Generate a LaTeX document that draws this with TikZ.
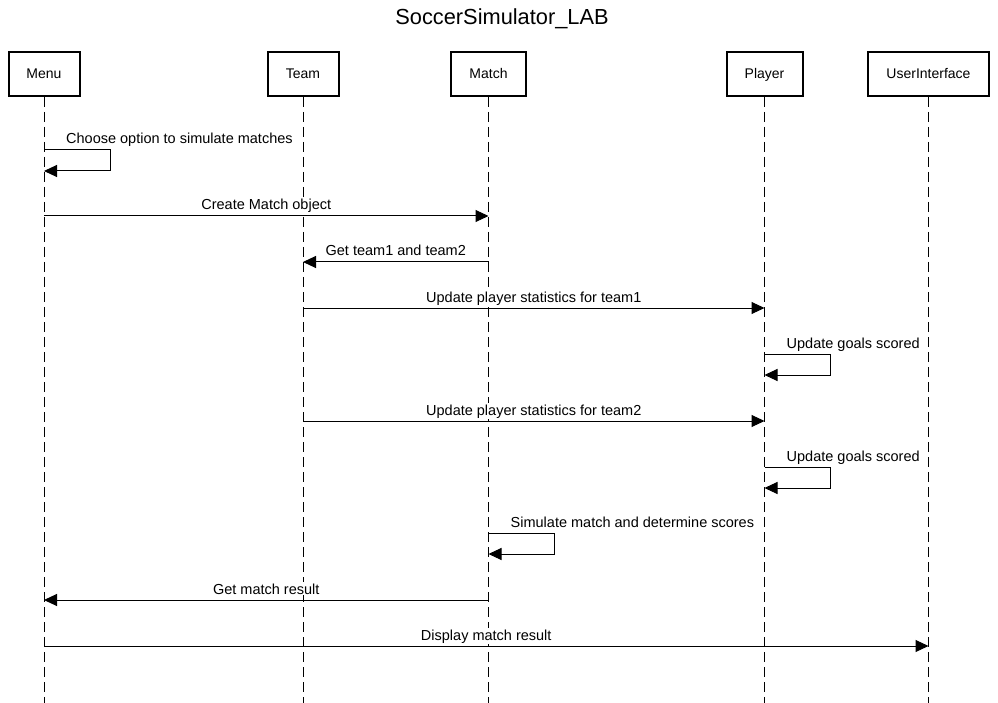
\documentclass[tikz,border=0pt]{standalone}
\usepackage{fontspec}
\setmainfont{Liberation Sans}
\usetikzlibrary{arrows.meta}

\begin{document}
\begin{tikzpicture}[x=1pt,y=-1pt,>={Triangle[length=13pt,width=12pt]},
head/.style={draw,line width=2pt,minimum height=44pt,text height=10pt,text depth=0pt,
  font=\fontsize{14}{16}\selectfont},
life/.style={dash pattern=on 10pt off 5pt,line width=1pt},
msg/.style={->,line width=1pt},
lbl/.style={font=\fontsize{14.5}{17}\selectfont,anchor=base,inner sep=1pt,fill=white}]
\useasboundingbox (0,0) rectangle (998,703);
\node[anchor=base,font=\fontsize{21.8}{24}\selectfont] (title) at (502,25) {SoccerSimulator\_LAB};
\node[head,minimum width=71pt] (menu) at (44,74) {Menu};
\node[head,minimum width=71pt] (team) at (303,74) {Team};
\node[head,minimum width=75pt] (match) at (488.5,74) {Match};
\node[head,minimum width=76pt] (player) at (764.5,74) {Player};
\node[head,minimum width=121pt] (ui) at (928.5,74) {UserInterface};
\foreach \n in {menu,team,match,player,ui}{
  \coordinate (\n-end) at (\n |- 0,703);
  \draw[life] (\n) -- (\n-end);
}
\foreach \n/\y in {menu/150,menu/171,menu/216,menu/600,menu/646,team/262,team/308,team/421,
  match/216,match/262,match/533,match/554,match/600,player/308,player/354,player/375,
  player/421,player/467,player/488,ui/646}
  \coordinate (\n-\y) at (\n |- 0,\y);
\draw[msg] (menu-150) -- ++(66,0) |- (menu-171);
\node[lbl,anchor=base west] (choose) at ([shift={(21,-6)}]menu-150) {Choose option to simulate matches};
\path[msg] (menu-216) edge node[lbl,yshift=6pt]{Create Match object} (match-216);
\path[msg] (match-262) edge node[lbl,yshift=6pt]{Get team1 and team2} (team-262);
\path[msg] (team-308) edge node[lbl,yshift=6pt]{Update player statistics for team1} (player-308);
\draw[msg] (player-354) -- ++(66,0) |- (player-375);
\node[lbl,anchor=base west] (goals1) at ([shift={(21,-6)}]player-354) {Update goals scored};
\path[msg] (team-421) edge node[lbl,yshift=6pt]{Update player statistics for team2} (player-421);
\draw[msg] (player-467) -- ++(66,0) |- (player-488);
\node[lbl,anchor=base west] (goals2) at ([shift={(21,-6)}]player-467) {Update goals scored};
\draw[msg] (match-533) -- ++(66,0) |- (match-554);
\node[lbl,anchor=base west] (simulate) at ([shift={(21,-6)}]match-533) {Simulate match and determine scores};
\path[msg] (match-600) edge node[lbl,yshift=6pt]{Get match result} (menu-600);
\path[msg] (menu-646) edge node[lbl,yshift=6pt]{Display match result} (ui-646);
\end{tikzpicture}
\end{document}
